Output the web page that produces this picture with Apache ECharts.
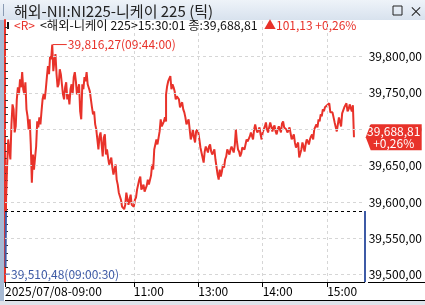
<!DOCTYPE html>
<html><head><meta charset="utf-8">
<script src="https://cdn.jsdelivr.net/npm/echarts@6/dist/echarts.min.js"></script>
<style>html,body{margin:0;padding:0;background:#fff}#c{width:425px;height:305px}</style>
</head><body><div id="c"></div>
<script>
// ---- data ----
const times = [
"09:00:30","09:01","09:02","09:03","09:04","09:05","09:06","09:07","09:08","09:09","09:10","09:11","09:12","09:13","09:14","09:15","09:16","09:17","09:18","09:19",
"09:20","09:21","09:22","09:23","09:24","09:25","09:26","09:27","09:28","09:29","09:30","09:31","09:32","09:33","09:34","09:35","09:36","09:37","09:38","09:39",
"09:40","09:41","09:42","09:43","09:44","09:45","09:46","09:47","09:48","09:49","09:50","09:51","09:52","09:53","09:54","09:55","09:56","09:57","09:58","09:59",
"10:00","10:01","10:02","10:03","10:04","10:05","10:06","10:07","10:08","10:09","10:10","10:11","10:12","10:13","10:14","10:15","10:16","10:17","10:18","10:19",
"10:20","10:21","10:22","10:23","10:24","10:25","10:26","10:27","10:28","10:29","10:30","10:31","10:32","10:33","10:34","10:35","10:36","10:37","10:38","10:39",
"10:40","10:41","10:42","10:43","10:44","10:45","10:46","10:47","10:48","10:49","10:50","10:51","10:52","10:53","10:54","10:55","10:56","10:57","10:58","10:59",
"11:00","11:01","11:02","11:03","11:04","11:05","11:06","11:07","11:08","11:09","11:10","11:11","11:12","11:13","11:14","11:15","11:16","11:17","11:18","11:19",
"11:20","11:21","11:22","11:23","11:24","11:25","11:26","11:27","11:28","11:29","11:30",
"12:30","12:31","12:32","12:33","12:34","12:35","12:36","12:37","12:38","12:39","12:40","12:41","12:42","12:43","12:44","12:45","12:46","12:47","12:48","12:49",
"12:50","12:51","12:52","12:53","12:54","12:55","12:56","12:57","12:58","12:59",
"13:00","13:01","13:02","13:03","13:04","13:05","13:06","13:07","13:08","13:09","13:10","13:11","13:12","13:13","13:14","13:15","13:16","13:17","13:18","13:19",
"13:20","13:21","13:22","13:23","13:24","13:25","13:26","13:27","13:28","13:29","13:30","13:31","13:32","13:33","13:34","13:35","13:36","13:37","13:38","13:39",
"13:40","13:41","13:42","13:43","13:44","13:45","13:46","13:47","13:48","13:49","13:50","13:51","13:52","13:53","13:54","13:55","13:56","13:57","13:58","13:59",
"14:00","14:01","14:02","14:03","14:04","14:05","14:06","14:07","14:08","14:09","14:10","14:11","14:12","14:13","14:14","14:15","14:16","14:17","14:18","14:19",
"14:20","14:21","14:22","14:23","14:24","14:25","14:26","14:27","14:28","14:29","14:30","14:31","14:32","14:33","14:34","14:35","14:36","14:37","14:38","14:39",
"14:40","14:41","14:42","14:43","14:44","14:45","14:46","14:47","14:48","14:49","14:50","14:51","14:52","14:53","14:54","14:55","14:56","14:57","14:58","14:59",
"15:00","15:01","15:02","15:03","15:04","15:05","15:06","15:07","15:08","15:09","15:10","15:11","15:12","15:13","15:14","15:15","15:16","15:17","15:18","15:19",
"15:20","15:21","15:22","15:23","15:24","15:25"
];
const prices = [
39510.48,39603.1,39651.4,39685.9,39672.1,39658.3,39706.6,39734.1,39727.3,39695.5,39703.8,39741.0,39757.6,39747.9,39768.6,39757.6,39778.3,39754.8,39747.9,39764.5,
39727.3,39717.6,39699.7,39713.5,39679.0,39626.5,39665.2,39644.5,39661.0,39676.2,39710.7,39702.4,39716.2,39706.6,39724.5,39741.0,39747.9,39741.0,39754.8,39771.4,
39786.6,39775.5,39800.4,39796.2,39816.27,39779.7,39793.5,39803.1,39775.5,39757.6,39761.7,39782.4,39775.5,39761.7,39747.9,39741.0,39757.6,39764.5,39741.0,39747.9,
39734.1,39754.8,39761.7,39747.9,39771.4,39778.3,39765.9,39747.9,39754.8,39761.7,39724.5,39713.5,39761.7,39754.8,39771.4,39765.9,39778.3,39761.7,39761.7,39752.1,
39741.0,39730.0,39720.4,39724.5,39706.6,39699.7,39685.9,39672.1,39690.0,39695.5,39679.0,39662.4,39688.6,39692.8,39665.2,39672.1,39661.0,39651.4,39655.5,39661.0,
39647.2,39637.6,39644.5,39651.4,39630.7,39623.8,39612.7,39610.0,39603.1,39593.5,39596.2,39590.0,39596.2,39612.7,39610.0,39596.2,39603.1,39610.0,39596.2,39596.2,
39593.5,39603.1,39605.9,39616.9,39623.8,39630.7,39634.8,39616.9,39619.6,39623.8,39614.1,39614.1,39622.4,39630.7,39623.8,39626.5,39636.2,39651.4,39644.5,39672.1,
39674.8,39685.9,39679.0,39679.0,39696.9,39713.5,39703.8,39703.8,39710.7,39716.2,39710.7,
39747.9,39759.0,39765.9,39768.6,39772.8,39754.8,39761.7,39757.6,39752.1,39741.0,39745.2,39747.9,39741.0,39730.0,39734.1,39736.9,39727.3,39723.1,39716.2,39706.6,
39709.3,39713.5,39699.7,39685.9,39691.4,39699.7,39688.6,39681.7,39696.9,39699.7,
39695.5,39685.9,39674.8,39672.1,39661.0,39654.1,39669.3,39676.2,39672.1,39667.9,39676.2,39679.0,39669.3,39665.2,39665.2,39672.1,39658.3,39658.3,39637.6,39630.7,
39644.5,39634.8,39641.7,39651.4,39647.2,39658.3,39662.4,39672.1,39672.1,39665.2,39672.1,39676.2,39674.8,39667.9,39677.6,39699.7,39683.1,39672.1,39669.3,39662.4,
39666.6,39674.8,39672.1,39672.1,39679.0,39685.9,39683.1,39681.7,39690.0,39695.5,39692.8,39685.9,39699.7,39706.6,39699.7,39695.5,39698.3,39702.4,39692.8,39685.9,
39695.5,39692.8,39703.8,39709.3,39699.7,39695.5,39702.4,39709.3,39703.8,39696.9,39702.4,39705.2,39696.9,39692.8,39699.7,39703.8,39702.4,39695.5,39707.9,39710.7,
39702.4,39703.8,39699.7,39695.5,39698.3,39702.4,39694.1,39685.9,39688.6,39692.8,39681.7,39674.8,39672.1,39681.7,39661.0,39658.3,39672.1,39681.7,39676.2,39669.3,
39679.0,39685.9,39683.1,39679.0,39685.9,39690.0,39692.8,39685.9,39699.7,39702.4,39706.6,39702.4,39713.5,39710.7,39720.4,39717.6,39727.3,39724.5,39730.0,39727.3,
39732.8,39731.4,39735.5,39723.1,39724.5,39723.1,39716.2,39709.3,39710.7,39696.9,39706.6,39716.2,39713.5,39703.8,39721.8,39724.5,39730.0,39727.3,39735.5,39724.5,
39727.3,39734.1,39732.8,39724.5,39732.8,39688.81
];
const prevClose = 39587.68;
const tickTimes = ["09:00","11:00","13:00","14:00","15:00"];
const tickLabels = ["2025/07/08-09:00","11:00","13:00","14:00","15:00"];
const yGridValues = [39500,39550,39600,39650,39700,39750,39800];
const titleText = "해외-NII:NI225-니케이 225 (틱)";
const headerName = "<해외-니케이 225>";
const headerTime = "15:30:01";

// ---- helpers ----
const FF = '"Noto Sans CJK KR","Noto Sans",sans-serif';
const RED = '#e8322a', BLUE = '#3d5aa6';
const X_MAX = 335, Y_MIN = 39490, Y_MAX = 39850;
function tmin(s){const p=s.split(':').map(Number);let t=p[0]*60+p[1]+(p[2]||0)/60-540;if(t>150)t-=60;return t;}
function tfull(s){return s.length===5?s+':00':s;}
function fmt(v){const parts=v.toFixed(2).split('.');return parts[0].replace(/\B(?=(\d{3})+(?!\d))/g,',')+','+parts[1];}
const data = times.map((t,i)=>[tmin(t),prices[i]]);
const last = prices[prices.length-1];
const chg = last-prevClose, pct = chg/prevClose*100;
const tickMins = tickTimes.map(tmin);

const chart = echarts.init(document.getElementById('c'),null,{renderer:'canvas'});
chart.setOption({
  animation:false,
  grid:{left:5,right:57,top:20,bottom:23},
  xAxis:{type:'value',min:0,max:X_MAX,splitLine:{show:false},
    axisLine:{lineStyle:{color:'#000',width:1}},
    axisTick:{customValues:tickMins,length:5,lineStyle:{color:'#000'}},
    axisLabel:{customValues:tickMins,formatter:v=>{const i=tickMins.indexOf(v);return i>=0?tickLabels[i]:'';},
      align:'left',margin:3,color:'#000',fontSize:12,fontFamily:FF}},
  yAxis:{type:'value',position:'right',min:Y_MIN,max:Y_MAX,interval:10,
    splitLine:{show:false},
    axisLine:{show:true,lineStyle:{color:RED,width:2}},
    axisTick:{show:true,length:3,lineStyle:{color:'#333'}},
    axisLabel:{margin:4,showMaxLabel:false,formatter:v=>(v%50===0&&v<Y_MAX)?fmt(v):'',color:'#000',fontSize:12,fontFamily:FF}},
  visualMap:{show:false,type:'piecewise',seriesIndex:1,dimension:1,
    pieces:[{gte:Y_MIN-1000,lt:prevClose,color:BLUE},{gte:prevClose,lte:Y_MAX+1000,color:RED}]},
  graphic:[
    {type:'rect',shape:{x:0,y:0,width:425,height:20},style:{fill:new echarts.graphic.LinearGradient(0,0,0,1,[{offset:0,color:'#eef3f9'},{offset:1,color:'#d8e2ee'}])},z:-1},
    {type:'rect',shape:{x:3,y:4,width:1,height:12},style:{fill:'#8a9bb3'}},
    {type:'text',x:14,y:11,style:{text:titleText,font:'15px '+FF,fill:'#222',verticalAlign:'middle'}},
    {type:'rect',shape:{x:393,y:6,width:9,height:9},style:{fill:'none',stroke:'#222',lineWidth:1}},
    {type:'text',x:409,y:11,style:{text:'×',font:'14px '+FF,fill:'#222',verticalAlign:'middle'}},
    {type:'rect',shape:{x:0,y:20,width:4,height:282},style:{fill:'#a7bad4'}},
    {type:'rect',shape:{x:7,y:22,width:2,height:7},style:{fill:'#111'}},
    {type:'text',x:14,y:25,style:{text:'<R>',font:'12px '+FF,fill:RED,verticalAlign:'middle'}},
    {type:'text',x:40,y:25,style:{text:headerName+headerTime+' 종:'+fmt(last),font:'12.3px '+FF,fill:'#111',verticalAlign:'middle'}},
    {type:'text',x:264,y:25,style:{text:'▲'+fmt(chg)+' +'+fmt(pct)+'%',font:'12px '+FF,fill:RED,verticalAlign:'middle'}},
    {type:'rect',shape:{x:368,y:282,width:57,height:1},style:{fill:'#000'}},
    {type:'rect',shape:{x:5,y:300,width:420,height:1},style:{fill:'#000'}},
    {type:'rect',shape:{x:0,y:301,width:425,height:4},style:{fill:'#dfe3ea'}}
  ],
  series:[
    {type:'line',data:[],silent:true,z:1,
      markLine:{silent:true,symbol:'none',animation:false,label:{show:false},
        lineStyle:{color:'#d6d6d6',type:[3,3],width:1},
        data:[...yGridValues.map(v=>({yAxis:v})),...tickMins.slice(1).map(m=>({xAxis:m}))]}},
    {type:'line',data:data,symbol:'none',showSymbol:false,clip:false,z:3,
      lineStyle:{width:2},
      markLine:{silent:true,symbol:'none',animation:false,label:{show:false},
        data:[
          {yAxis:prevClose,lineStyle:{color:'#000',type:[3,3],width:1}},
          [{coord:[X_MAX,Y_MIN],lineStyle:{color:BLUE,width:2,type:'solid'}},{coord:[X_MAX,prevClose]}]
        ]},
      markPoint:{silent:true,animation:false,
        data:[
          {type:'max',symbol:'rect',symbolSize:1,itemStyle:{color:'rgba(0,0,0,0)'},
            label:{show:true,position:'right',distance:0,
              formatter:p=>'{l|}{t|'+fmt(p.value)+'('+tfull(times[prices.indexOf(p.value)])+')}',
              rich:{l:{width:14,height:1,backgroundColor:RED},t:{color:RED,fontSize:12,fontFamily:FF,padding:[0,0,0,1]}}}},
          {type:'min',symbol:'rect',symbolSize:1,itemStyle:{color:'rgba(0,0,0,0)'},
            label:{show:true,position:'right',distance:0,offset:[-1,7],
              formatter:p=>'{l|}{t|'+fmt(p.value)+'('+tfull(times[prices.indexOf(p.value)])+')}',
              rich:{l:{width:5,height:1,backgroundColor:BLUE},t:{color:BLUE,fontSize:12,fontFamily:FF,padding:[0,0,0,1]}}}},
          {coord:[X_MAX,last],symbol:'path://M0,13L5,0L56,0L56,26L5,26Z',symbolSize:[56,26],symbolKeepAspect:false,
            symbolOffset:[29,0],itemStyle:{color:RED},
            label:{show:true,position:'inside',formatter:fmt(last)+'\n+'+fmt(pct)+'%',color:'#fff',fontSize:12,lineHeight:12,fontFamily:FF}}
        ]}}
  ]
});
</script></body></html>
